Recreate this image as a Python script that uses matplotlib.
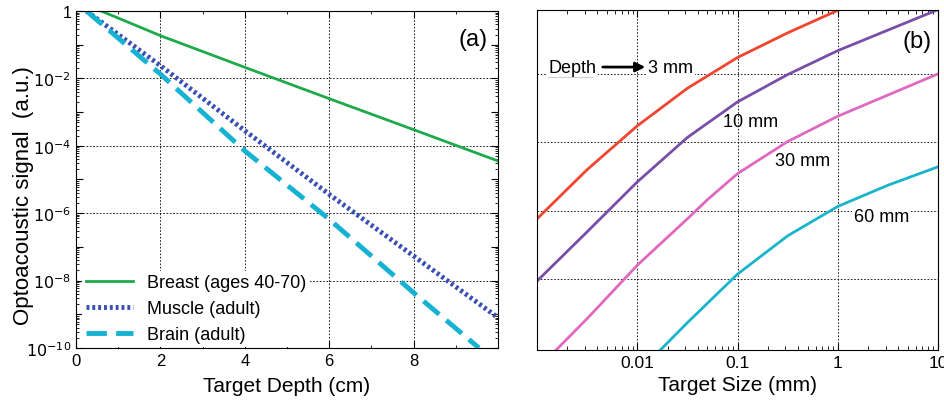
import matplotlib.pyplot as plt
import matplotlib.ticker as mticker
import numpy as np

plt.rcParams['font.family'] = ['Liberation Sans', 'DejaVu Sans']

# panel (a): signal vs target depth (cm), values read as log10 decades
depth_breast = [0.6, 2, 4, 6, 8, 10]
sig_breast = [0, -0.73, -1.67, -2.6, -3.52, -4.45]
depth_muscle = [0.25, 2, 4, 6, 8, 10]
sig_muscle = [0, -1.62, -3.55, -5.44, -7.27, -9.1]
depth_brain = [0.25, 2, 4, 6, 8, 9.55]
sig_brain = [0, -1.87, -4.15, -6.18, -8.36, -10.0]

# panel (b): log10 of target size (mm) and log10 of signal (a.u.)
lsize_3 = [-3, -2.5, -2, -1.5, -1, -0.5, 0]
lsig_3 = [-3.12, -2.40, -1.76, -1.21, -0.76, -0.40, -0.07]
lsize_10 = [-3, -2.5, -2, -1.5, -1, -0.5, 0, 0.5, 1]
lsig_10 = [-4.03, -3.31, -2.58, -1.93, -1.41, -1.01, -0.66, -0.36, -0.06]
lsize_30 = [-2.81, -2.5, -2, -1.5, -1.3, -1, -0.5, 0, 0.5, 1]
lsig_30 = [-5.04, -4.58, -3.80, -3.12, -2.84, -2.46, -1.99, -1.62, -1.31, -1.0]
lsize_60 = [-1.77, -1.5, -1, -0.5, 0, 0.5, 1]
lsig_60 = [-5.04, -4.64, -3.93, -3.37, -2.94, -2.63, -2.36]

depth_labels = ['3 mm', '10 mm', '30 mm', '60 mm']

fig = plt.figure(figsize=(9.44, 4.02), dpi=100)
ax1 = fig.add_axes([0.0805, 0.132, 0.447, 0.838])
ax2 = fig.add_axes([0.569, 0.127, 0.4246, 0.846])

grid_kw = dict(color='black', linestyle=(0, (2, 2)), linewidth=0.6)

ax1.semilogy(depth_breast, 10.0 ** np.array(sig_breast), color='#1faa4a', lw=2, label='Breast (ages 40-70)')
ax1.semilogy(depth_muscle, 10.0 ** np.array(sig_muscle), color='#3a4fb5', lw=3.5, linestyle=(0, (0.6, 0.6)), label='Muscle (adult)')
ax1.semilogy(depth_brain, 10.0 ** np.array(sig_brain), color='#16b2d2', lw=3.5, linestyle=(0, (4.2, 1.9)), label='Brain (adult)')
ax1.set_xlim(0, 10)
ax1.set_ylim(1e-10, 1)
ax1.set_xticks([0, 2, 4, 6, 8])
ax1.set_xticks([1, 3, 5, 7, 9], minor=True)
ax1.set_yticks([10.0 ** k for k in range(-10, 1)])
ylabs = []
for k in range(-10, 1):
    if k == 0:
        ylabs.append('1')
    elif k % 2 == 0:
        ylabs.append('$10^{%d}$' % k)
    else:
        ylabs.append('')
ax1.set_yticklabels(ylabs)
ax1.yaxis.set_minor_locator(mticker.LogLocator(base=10, subs=np.arange(2, 10), numticks=20))
ax1.yaxis.set_minor_formatter(mticker.NullFormatter())
for k in range(-8, 0, 2):
    ax1.axhline(10.0 ** k, zorder=0.5, **grid_kw)
ax1.xaxis.grid(True, which='major', **grid_kw)
ax1.tick_params(which='both', direction='in', top=True, right=True, labelsize=12)
ax1.tick_params(axis='y', labelsize=11.5)
ax1.tick_params(which='major', length=5)
ax1.tick_params(which='minor', length=2.5)
ax1.set_xlabel('Target Depth (cm)', fontsize=15, labelpad=6)
ax1.set_ylabel('Optoacoustic signal  (a.u.)', fontsize=16)
ax1.yaxis.set_label_coords(-0.100, 0.455)
leg = ax1.legend(loc='lower left', bbox_to_anchor=(0.012, 0.0), fontsize=13, frameon=True,
                 fancybox=False, edgecolor='none', framealpha=1, handlelength=2.6,
                 borderaxespad=0.05, labelspacing=0.5, borderpad=0.2)
ax1.text(0.975, 0.95, '(a)', transform=ax1.transAxes, ha='right', va='top', fontsize=17)

colors_b = ['#f0452e', '#7a4ea6', '#e069c0', '#18b4cc']
for xs, ys, c in zip([lsize_3, lsize_10, lsize_30, lsize_60], [lsig_3, lsig_10, lsig_30, lsig_60], colors_b):
    ax2.loglog(10.0 ** np.array(xs), 10.0 ** np.array(ys), color=c, lw=2, solid_joinstyle='round')
ax2.set_xlim(1e-3, 10)
ax2.set_ylim(10 ** -5.04, 10 ** -0.063)
ax2.set_xticks([0.01, 0.1, 1, 10])
ax2.set_xticklabels(['0.01', '0.1', '1', '10'])
ax2.set_yticks([1e-4, 1e-3, 1e-2, 1e-1])
ax2.yaxis.set_minor_locator(mticker.NullLocator())
ax2.set_yticklabels([])
ax2.xaxis.grid(True, which='major', **grid_kw)
for k in range(-4, 0):
    ax2.axhline(10.0 ** k, zorder=0.5, **grid_kw)
ax2.tick_params(which='both', direction='in', top=True, right=False, left=False, labelsize=12.5)
ax2.tick_params(which='major', length=5)
ax2.tick_params(which='minor', length=3)
ax2.set_xlabel('Target Size (mm)', fontsize=15, labelpad=4)

bbox_w = dict(facecolor='white', edgecolor='none', pad=1)
ax2.text(0.00129, 10 ** -0.90, 'Depth', fontsize=13, va='center', ha='left', bbox=bbox_w)
ax2.plot([0.00129, 0.00355], [10 ** -1.03, 10 ** -1.03], color='black', lw=1)
ax2.annotate('', xy=(0.0128, 10 ** -0.90), xytext=(0.00424, 10 ** -0.90),
             arrowprops=dict(arrowstyle='-|>', color='black', lw=2, mutation_scale=14))
ax2.text(0.0128, 10 ** -0.90, depth_labels[0], fontsize=13, va='center', ha='left', bbox=bbox_w)
ax2.text(0.0716, 10 ** -1.70, depth_labels[1], fontsize=13, va='center', ha='left')
ax2.text(0.236, 10 ** -2.27, depth_labels[2], fontsize=13, va='center', ha='left')
ax2.text(1.45, 10 ** -3.08, depth_labels[3], fontsize=13, va='center', ha='left', bbox=bbox_w)
ax2.text(0.985, 0.94, '(b)', transform=ax2.transAxes, ha='right', va='top', fontsize=17)

fig.savefig('out.png', dpi=100)
